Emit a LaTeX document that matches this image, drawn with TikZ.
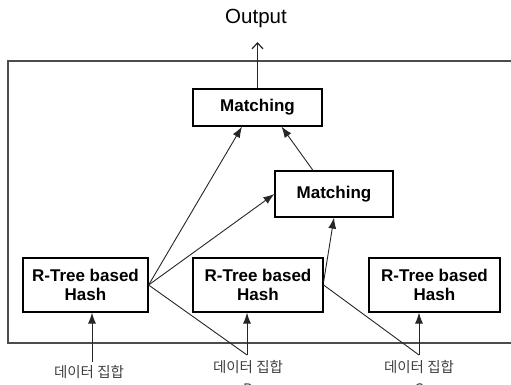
\documentclass[tikz,border=0pt]{standalone}
\usepackage{fontspec}
\setmainfont{Liberation Sans}
\newfontfamily\krfont{Noto Sans CJK KR}
\usetikzlibrary{arrows.meta}

\begin{document}
\begin{tikzpicture}[x=1pt,y=-1pt,
  box/.style={draw=black,line width=1.2pt,fill=white,inner sep=0pt,align=center,
    font=\fontsize{17}{19}\selectfont\bfseries},
  frame/.style={draw=black!70,line width=1.4pt},
  conn/.style={draw=black!85,line width=0.9pt},
  arr/.style={conn,-{Latex[length=11pt,width=8pt]}},
  datalabel/.style={font=\krfont\fontsize{14.5}{22}\selectfont,text=black!75,align=center,inner sep=0pt}]
\useasboundingbox (0,0) rectangle (511,385);
\clip (0,0) rectangle (511,385);

% enclosing frame (runs past the right edge)
\draw[frame] (8,61) rectangle (540,343);

% processing blocks
\node[box,minimum width=129pt,minimum height=37pt] (m1) at (257.5,107.5) {Matching};
\node[box,minimum width=118pt,minimum height=46pt] (m2) at (334,194) {Matching};
\node[box,minimum width=125pt,minimum height=54pt] (h1) at (85.5,285) {R-Tree based\\Hash};
\node[box,minimum width=130pt,minimum height=54pt] (h2) at (258,285) {R-Tree based\\Hash};
\node[box,minimum width=131pt,minimum height=54pt] (h3) at (434.5,285) {R-Tree based\\Hash};

% output
\node[font=\fontsize{20.5}{22}\selectfont,inner sep=0pt] (out) at (256,18) {Output};
\coordinate (otip) at (257.5,42);
\draw[conn,line width=1.2pt,-{Straight Barb[length=6pt,width=11pt]}] (m1.north) -- (otip);

% input data sets
\node[datalabel,anchor=north] (d1) at (89,365) {데이터 집합\\A};
\node[datalabel,anchor=north] (d2) at (248,360) {데이터 집합\\B};
\node[datalabel,anchor=north] (d3) at (419,360) {데이터 집합\\C};
\coordinate (s1) at (92,362);
\coordinate (s2) at (247,355);
\coordinate (s3) at (419,355);
\draw[arr] (s1) -- (s1 |- h1.south);
\draw[arr] (s2) -- (s2 |- h2.south);
\draw[arr] (s3) -- (s3 |- h3.south);

% links between blocks
\draw[arr] (h1.east) -- ([xshift=-15.5pt]m1.south);
\draw[arr] (h1.east) -- (m2.west);
\draw[arr] ([xshift=-21pt]m2.north) -- ([xshift=24pt]m1.south);
\draw[arr] ([yshift=3pt]h2.east) -- (m2.south);
\draw[conn] (h1.east) -- (s2);
\draw[conn] (h2.east) -- (s3);
\end{tikzpicture}
\end{document}
